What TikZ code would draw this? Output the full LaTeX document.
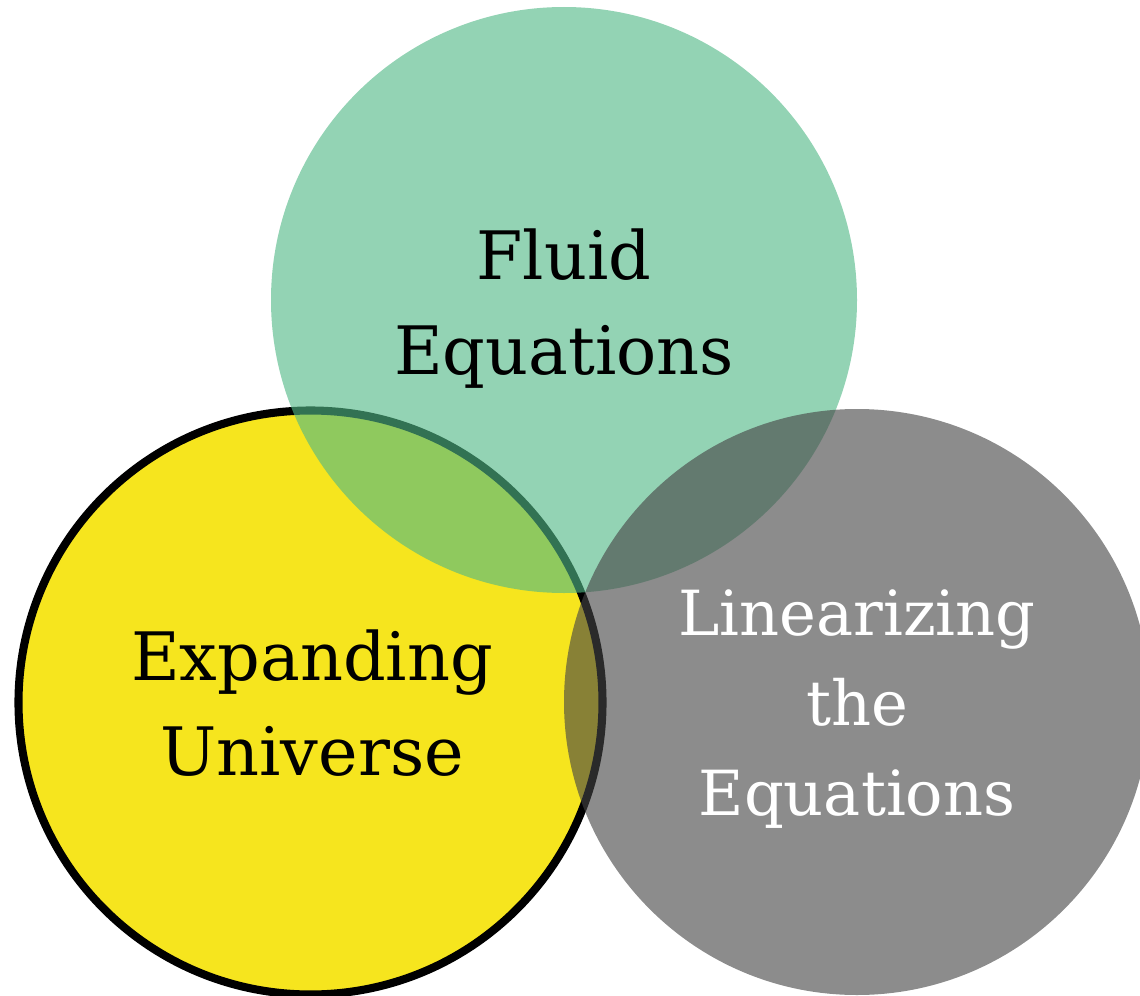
\documentclass[tikz,border=0pt]{standalone}
\usepackage{fontspec}
\setmainfont{DejaVu Serif}
\definecolor{amarillo}{RGB}{246,229,30}
\definecolor{verde}{RGB}{81,184,134}
\definecolor{gris}{RGB}{69,69,69}
\begin{document}
\begin{tikzpicture}[line join=round,
  grande/.style={font=\fontsize{19}{27}\selectfont, align=center},
  mediana/.style={font=\fontsize{17.7}{25.6}\selectfont, align=center, text=white}]
  \clip (0,0) rectangle (11.4,9.95);
  % el universo en expansion, con su borde negro
  \filldraw[fill=amarillo, line width=2.3pt] (3.105,2.925) circle (2.92);
  % las ecuaciones de fluidos, encima y transparente
  \fill[verde, fill opacity=0.62] (5.64,6.95) circle (2.93);
  % la linealizacion, a la derecha
  \fill[gris, fill opacity=0.62] (8.57,2.93) circle (2.93);
  % los textos
  \node[grande] (fluido) at (5.64,6.86) {Fluid\\Equations};
  \node[grande] (universo) at (3.12,2.92) {Expanding\\Universe};
  \node[mediana] (lineal) at (8.57,2.86) {Linearizing\\the\\Equations};
\end{tikzpicture}
\end{document}
